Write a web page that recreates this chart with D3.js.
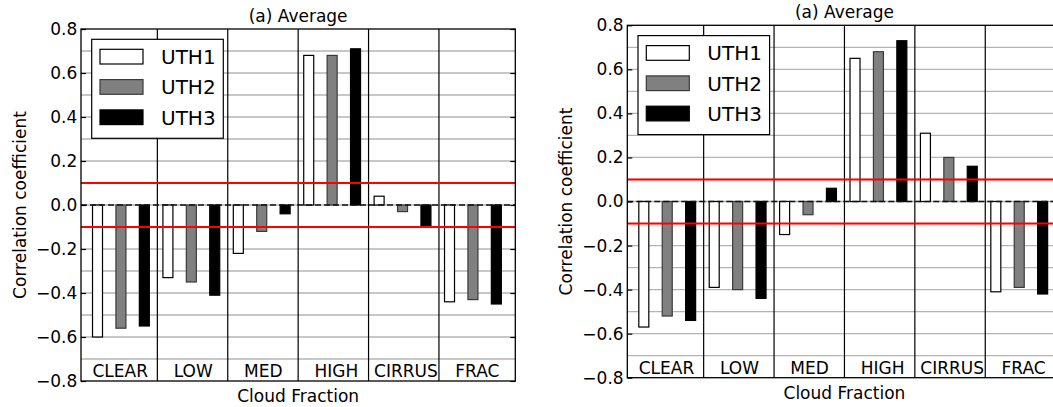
<!DOCTYPE html>
<html>
<head>
<meta charset="utf-8">
<script src="https://cdn.jsdelivr.net/npm/d3@7"></script>
<style>
  body { margin: 0; background: #fff; overflow: hidden; }
  svg { display: block; font-family: "DejaVu Sans", sans-serif; }
  .cat-label { white-space: pre; }
</style>
</head>
<body>
<svg id="chart" width="1053" height="407"></svg>
<script>
const categories = ["CLEAR", "LOW", "MED", "HIGH", "CIRRUS", "FRAC"];
const categoryLabels = ["CLEAR", "  LOW", "  MED", "  HIGH", "CIRRUS", "  FRAC"];
const seriesNames = ["UTH1", "UTH2", "UTH3"];

// left panel
const leftUTH1 = [-0.60, -0.33, -0.22, 0.68, 0.04, -0.44];
const leftUTH2 = [-0.56, -0.35, -0.12, 0.68, -0.03, -0.43];
const leftUTH3 = [-0.55, -0.41, -0.04, 0.71, -0.10, -0.45];

// right panel
const rightUTH1 = [-0.57, -0.39, -0.15, 0.65, 0.31, -0.41];
const rightUTH2 = [-0.52, -0.40, -0.06, 0.68, 0.20, -0.39];
const rightUTH3 = [-0.54, -0.44, 0.06, 0.73, 0.16, -0.42];

const yTickValues = [-0.8, -0.6, -0.4, -0.2, 0.0, 0.2, 0.4, 0.6, 0.8];
const gridValues = [-0.7, -0.6, -0.5, -0.4, -0.3, -0.2, -0.1, 0.0, 0.1, 0.2, 0.3, 0.4, 0.5, 0.6, 0.7];
const thresholds = [0.1, -0.1];

const titleText = "(a) Average";
const xLabelText = "Cloud Fraction";
const yLabelText = "Correlation coefficient";

const fills = ["#ffffff", "#808080", "#000000"];
const strokes = ["#000000", "#3a3a3a", "#000000"];

/**
 * Draws one bar panel into the svg.
 *
 * @param {Object} svg - the svg reference
 * @param {Object} box - axes rectangle {x0, x1, y0, y1}
 * @param {Array} seriesValues - one array of values per series
 */
function drawPanel(svg, box, seriesValues) {
  var g = svg.append("g");
  var width = box.x1 - box.x0;

  var xScale = d3.scaleBand()
    .domain(categories)
    .range([box.x0, box.x1])
    .paddingInner(0)
    .paddingOuter(0.0845);

  var innerScale = d3.scaleBand()
    .domain(seriesNames)
    .range([0, xScale.bandwidth()])
    .paddingInner(0.573)
    .paddingOuter(0.29)
    .align(0.41);

  var yScale = d3.scaleLinear()
    .domain([-0.8, 0.8])
    .range([box.y1, box.y0]);

  // light gridlines every 0.1
  g.append("g")
    .selectAll("line")
    .data(gridValues)
    .enter().append("line")
    .attr("x1", box.x0)
    .attr("x2", box.x1)
    .attr("y1", d => yScale(d))
    .attr("y2", d => yScale(d))
    .attr("stroke", "#b4b4b4")
    .attr("stroke-width", 1.3);

  // bars
  var rows = [];
  seriesNames.forEach(function(s, si) {
    categories.forEach(function(c, ci) {
      rows.push({ series: s, si: si, cat: c, value: seriesValues[si][ci] });
    });
  });

  g.append("g")
    .selectAll("rect")
    .data(rows)
    .enter().append("rect")
    .attr("x", d => xScale(d.cat) + innerScale(d.series))
    .attr("y", d => yScale(Math.max(0, d.value)))
    .attr("width", innerScale.bandwidth())
    .attr("height", d => Math.abs(yScale(d.value) - yScale(0)))
    .attr("fill", d => fills[d.si])
    .attr("stroke", d => strokes[d.si])
    .attr("stroke-width", 1.2);

  // vertical dividers between categories
  g.append("g")
    .selectAll("line")
    .data(categories.slice(1))
    .enter().append("line")
    .attr("x1", d => xScale(d))
    .attr("x2", d => xScale(d))
    .attr("y1", box.y0)
    .attr("y2", box.y1)
    .attr("stroke", "#000")
    .attr("stroke-width", 1.2);

  // dashed zero line
  g.append("line")
    .attr("x1", box.x0)
    .attr("x2", box.x1)
    .attr("y1", yScale(0))
    .attr("y2", yScale(0))
    .attr("stroke", "#111")
    .attr("stroke-width", 1.4)
    .attr("stroke-dasharray", "6,3");

  // red threshold lines
  g.append("g")
    .selectAll("line")
    .data(thresholds)
    .enter().append("line")
    .attr("x1", box.x0)
    .attr("x2", box.x1)
    .attr("y1", d => yScale(d))
    .attr("y2", d => yScale(d))
    .attr("stroke", "#ff0000")
    .attr("stroke-width", 2);

  // category labels inside the plot
  g.append("g")
    .selectAll("text")
    .data(categories)
    .enter().append("text")
    .attr("class", "cat-label")
    .attr("x", d => xScale(d) + 5.5)
    .attr("y", box.y1 - 3.7)
    .style("font-size", "17px")
    .text((d, i) => categoryLabels[i]);

  // y axis, inward ticks on both sides
  var yAxis = g.append("g")
    .attr("transform", "translate(" + box.x0 + ",0)")
    .call(d3.axisLeft(yScale)
      .tickValues(yTickValues)
      .tickFormat(d3.format(".1f"))
      .tickSizeInner(-5)
      .tickSizeOuter(0)
      .tickPadding(3.7));
  yAxis.select(".domain").remove();
  yAxis.selectAll("line").attr("stroke", "#000").attr("stroke-width", 1.2);
  yAxis.selectAll("text")
    .attr("fill", "#000")
    .style("font-size", "17px")
    .style("font-family", "DejaVu Sans");

  var yAxisRight = g.append("g")
    .attr("transform", "translate(" + box.x1 + ",0)")
    .call(d3.axisRight(yScale)
      .tickValues(yTickValues)
      .tickFormat("")
      .tickSizeInner(-5)
      .tickSizeOuter(0));
  yAxisRight.select(".domain").remove();
  yAxisRight.selectAll("line").attr("stroke", "#000").attr("stroke-width", 1.2);

  // legend
  var lx = box.x0 + 10.7;
  var ly = box.y0 + 10.3;
  var legend = g.append("g");
  legend.append("rect")
    .attr("x", lx)
    .attr("y", ly)
    .attr("width", 131.6)
    .attr("height", 99)
    .attr("fill", "#fff")
    .attr("stroke", "#000")
    .attr("stroke-width", 1.2);
  seriesNames.forEach(function(s, i) {
    legend.append("rect")
      .attr("x", lx + 8.3)
      .attr("y", ly + 10 + i * 30.3)
      .attr("width", 43)
      .attr("height", 14.7)
      .attr("fill", fills[i])
      .attr("stroke", strokes[i])
      .attr("stroke-width", 1.2);
    legend.append("text")
      .attr("x", lx + 69.3)
      .attr("y", ly + 10 + i * 30.3 + 14.7)
      .style("font-size", "20px")
      .text(s);
  });

  // frame
  g.append("rect")
    .attr("x", box.x0)
    .attr("y", box.y0)
    .attr("width", width)
    .attr("height", box.y1 - box.y0)
    .attr("fill", "none")
    .attr("stroke", "#000")
    .attr("stroke-width", 1.3);

  // title and axis labels
  var cx = (box.x0 + box.x1) / 2;
  g.append("text")
    .attr("x", cx)
    .attr("y", box.y0 - 7)
    .style("text-anchor", "middle")
    .style("font-size", "17px")
    .text(titleText);

  g.append("text")
    .attr("x", cx)
    .attr("y", box.y1 + 21)
    .style("text-anchor", "middle")
    .style("font-size", "17px")
    .text(xLabelText);

  g.append("text")
    .attr("transform", "translate(" + (box.x0 - 55.5) + "," + ((box.y0 + box.y1) / 2) + ") rotate(-90)")
    .style("text-anchor", "middle")
    .style("font-size", "17px")
    .text(yLabelText);
}

var svg = d3.select("#chart");
drawPanel(svg, { x0: 81, x1: 515.3, y0: 29, y1: 381 }, [leftUTH1, leftUTH2, leftUTH3]);
drawPanel(svg, { x0: 627.3, x1: 1061.6, y0: 25.3, y1: 377.7 }, [rightUTH1, rightUTH2, rightUTH3]);
</script>
</body>
</html>
